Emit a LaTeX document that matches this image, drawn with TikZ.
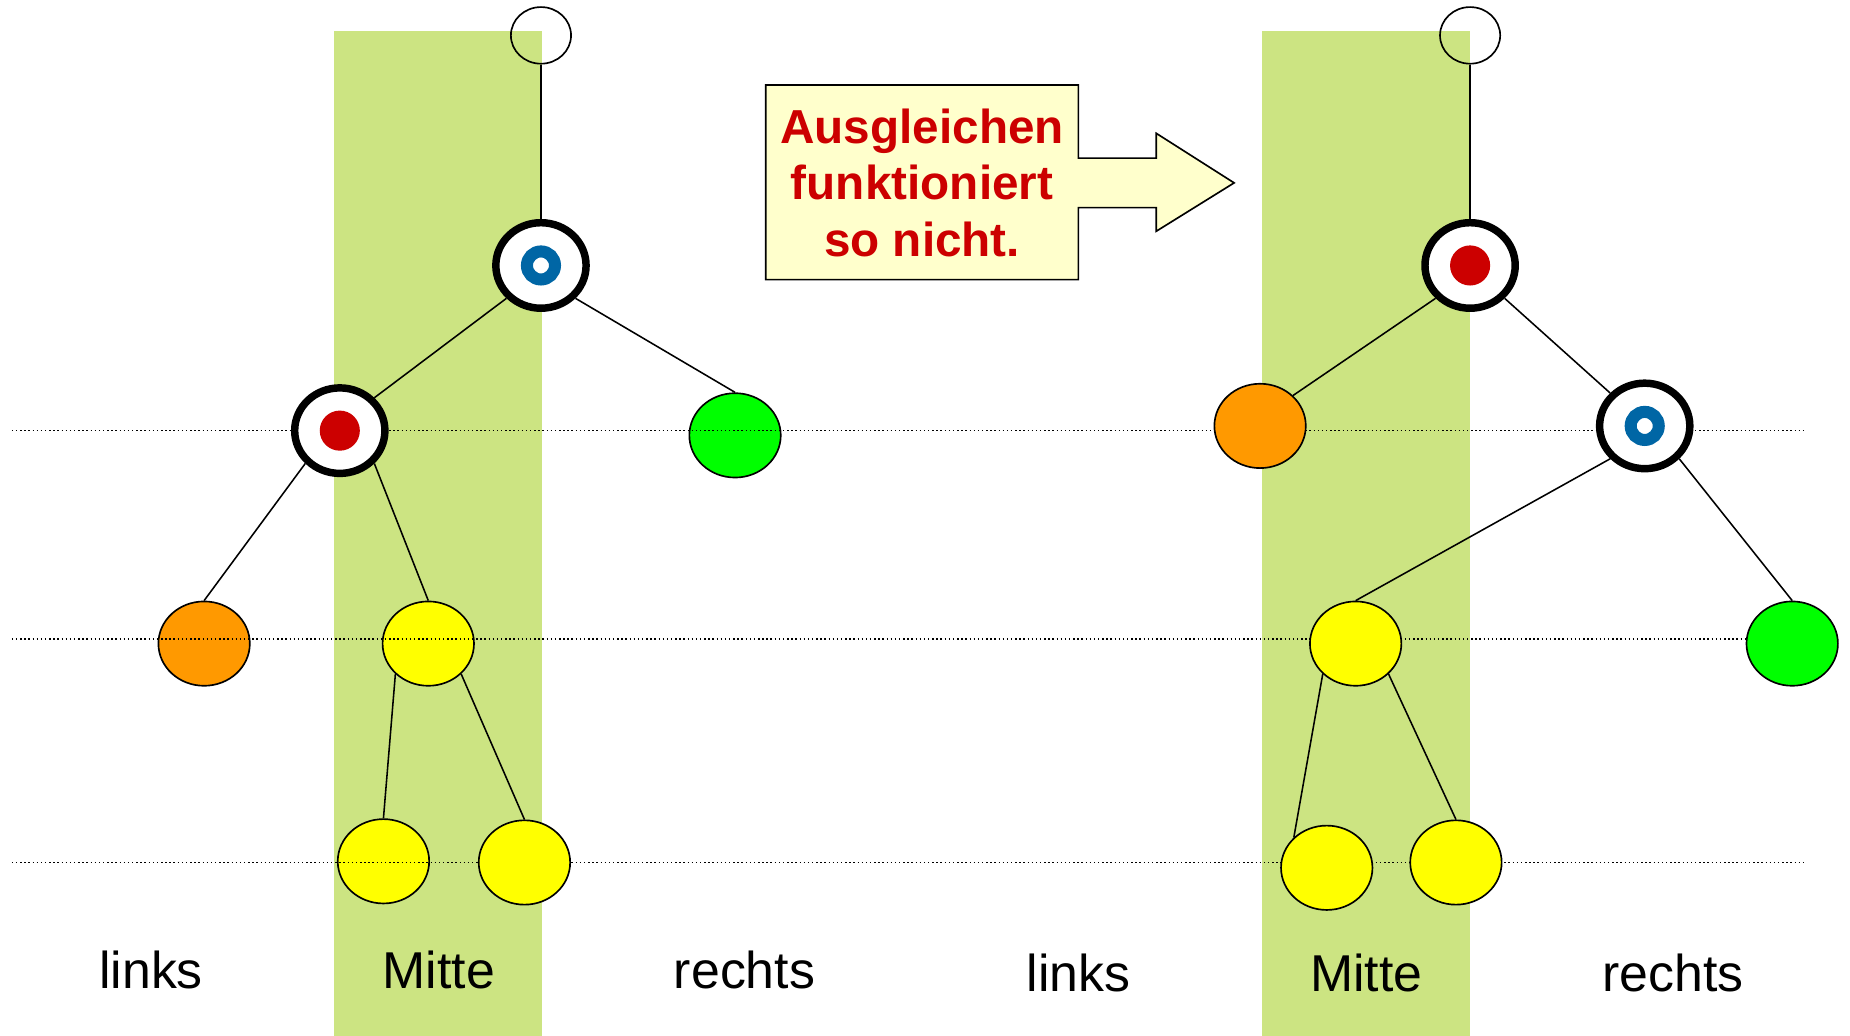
\documentclass[tikz,border=0pt]{standalone}
\usepackage{fontspec}
\setmainfont{Liberation Sans}
\usetikzlibrary{shapes.geometric, positioning}
\definecolor{bandgreen}{RGB}{204,228,130}
\definecolor{leaforange}{RGB}{255,153,0}
\definecolor{leafyellow}{RGB}{255,255,0}
\definecolor{leafgreen}{RGB}{0,255,0}
\definecolor{dotred}{RGB}{204,0,0}
\definecolor{ringblue}{RGB}{0,102,165}
\definecolor{notefill}{RGB}{255,255,204}
\tikzset{
    leaf/.style={
        ellipse, draw=black, line width=0.8pt, inner sep=0pt,
        minimum width=1.55cm, minimum height=1.43cm
    },
    rootnode/.style={
        ellipse, draw=black, line width=0.8pt, inner sep=0pt,
        minimum width=1.02cm, minimum height=0.96cm
    },
    ringnode/.style={
        ellipse, draw=black, fill=white, line width=3.6pt, inner sep=0pt,
        minimum width=1.53cm, minimum height=1.45cm
    },
    redring/.style={ringnode, path picture={\fill[dotred] (path picture bounding box.center) circle (0.34cm);}},
    bluering/.style={ringnode, path picture={\draw[ringblue, line width=5.8pt] (path picture bounding box.center) circle (0.238cm);}},
    treeline/.style={line width=0.75pt, color=black},
    levelline/.style={line width=0.7pt, dash pattern=on 0.7pt off 1.3pt},
    sidelabel/.style={font=\fontsize{25}{30}\selectfont, anchor=base},
}

\begin{document}
\begin{tikzpicture}[x=0.02cm, y=-0.02cm]
    \useasboundingbox (0,0) rectangle (1568,878);
    \tikzstyle{notetext}=[font=\bfseries\fontsize{23}{27.2}\selectfont, text=dotred, align=center, inner sep=0pt]

    % Mitte bands
    \fill[bandgreen] (283.5,26) rectangle (459.5,878);
    \fill[bandgreen] (1070,26) rectangle (1246,878);

    % Left tree (leaves under the level lines)
    \node[leaf, fill=leafgreen] (lgreen) at (623,369) {};
    \node[leaf, fill=leaforange] (lorange) at (173,545.5) {};
    \node[leaf, fill=leafyellow] (lyel) at (363,545.5) {};
    \node[leaf, fill=leafyellow] (lyl) at (325,730) {};

    % Level lines
    \foreach \y in {365, 541.5, 731}
        \draw[levelline] (10,\y) -- (1529,\y);

    % Left tree
    \node[leaf, fill=leafyellow] (lyr) at (444.5,731) {};
    \node[rootnode] (lroot) at (458.5,30) {};
    \node[bluering] (la) at (458.5,225) {};
    \node[redring] (lb) at (288,365) {};

    % Right tree
    \node[rootnode] (rroot) at (1246,30) {};
    \node[redring] (ra) at (1246,225) {};
    \node[leaf, fill=leaforange] (rorange) at (1068,361) {};
    \node[bluering] (rb) at (1394,361) {};
    \node[leaf, fill=leafyellow] (ryel) at (1149,545.5) {};
    \node[leaf, fill=leafgreen] (rgreen) at (1519,545.5) {};
    \node[leaf, fill=leafyellow] (ryl) at (1124.5,735.5) {};
    \node[leaf, fill=leafyellow] (ryr) at (1234,731) {};

    % Connectors
    \foreach \a/\b in {lroot.south/la.north, la.south west/lb.north east, la.south east/lgreen.north,
                       lb.south west/lorange.north, lb.south east/lyel.north,
                       lyel.south west/lyl.north, lyel.south east/lyr.north,
                       rroot.south/ra.north, ra.south west/rorange.north east, ra.south east/rb.north west,
                       rb.south west/ryel.north, rb.south east/rgreen.north,
                       ryel.south west/ryl.north west, ryel.south east/ryr.north}
        \draw[treeline] (\a) -- (\b);

    % Callout
    \draw[fill=notefill, line width=0.8pt] (649,72) -- (914,72) -- (914,134) -- (980,134) -- (980,113)
        -- (1046,155) -- (980,196) -- (980,176) -- (914,176) -- (914,237) -- (649,237) -- cycle;
    \node[notetext] (note) at (781.5,155) {Ausgleichen\\funktioniert\\so nicht.};

    % Labels
    \node[sidelabel] (llinks) at (128,838) {links};
    \node[sidelabel] (lmitte) at (372,838) {Mitte};
    \node[sidelabel] (lrechts) at (631,838) {rechts};
    \node[sidelabel] (rlinks) at (914,840) {links};
    \node[sidelabel] (rmitte) at (1158,840) {Mitte};
    \node[sidelabel] (rrechts) at (1418,840) {rechts};
\end{tikzpicture}
\end{document}
